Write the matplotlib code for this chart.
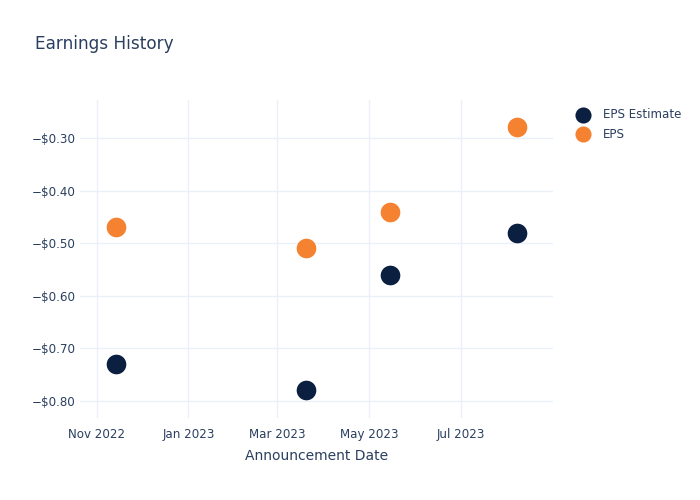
import datetime as dt

import matplotlib
matplotlib.use('Agg')
import matplotlib.pyplot as plt
import matplotlib.dates as mdates
from matplotlib.ticker import FuncFormatter

# data
dates = [dt.datetime(2022, 11, 14), dt.datetime(2023, 3, 20),
         dt.datetime(2023, 5, 15), dt.datetime(2023, 8, 7)]
eps_estimate = [-0.73, -0.78, -0.56, -0.48]
eps_actual = [-0.47, -0.51, -0.44, -0.28]
x_ticks = [dt.datetime(2022, 11, 1), dt.datetime(2023, 1, 1), dt.datetime(2023, 3, 1),
           dt.datetime(2023, 5, 1), dt.datetime(2023, 7, 1)]
y_ticks = [-0.8, -0.7, -0.6, -0.5, -0.4, -0.3]

TEXT = '#2a3f5f'
GRID = '#ebf0f8'
NAVY = '#0b1f41'
ORANGE = '#f58231'

plt.rcParams['font.family'] = ['DejaVu Sans']

fig = plt.figure(figsize=(7, 5), dpi=100)
ax = fig.add_axes([80 / 700, 1 - 418 / 500, (553 - 80) / 700, (418 - 100) / 500])

ax.scatter(dates, eps_estimate, s=200, color=NAVY, label='EPS Estimate', zorder=3,
           linewidths=0)
ax.scatter(dates, eps_actual, s=200, color=ORANGE, label='EPS', zorder=3,
           linewidths=0)

ax.set_xlim(dt.datetime(2022, 10, 21), dt.datetime(2023, 8, 31))
ax.set_ylim(-0.8323, -0.2278)

ax.set_xticks(x_ticks)
ax.xaxis.set_major_formatter(mdates.DateFormatter('%b %Y'))
ax.set_yticks(y_ticks)
ax.yaxis.set_major_formatter(FuncFormatter(lambda v, p: '\u2212$%.2f' % abs(v)))

ax.grid(True, color=GRID, linewidth=1)
ax.set_axisbelow(True)
for s in ax.spines.values():
    s.set_visible(False)
ax.tick_params(length=0, labelsize=8.6, colors=TEXT)
ax.tick_params(axis='x', pad=7)
ax.tick_params(axis='y', pad=3)

fig.text(35 / 700, 1 - 44 / 500, 'Earnings History', fontsize=12.2, color=TEXT,
         ha='left', va='center')
fig.text((80 + 553) / 2 / 700, 1 - 456 / 500, 'Announcement Date', fontsize=10,
         color=TEXT, ha='center', va='center')

leg = ax.legend(loc='upper left', bbox_to_anchor=(571 / 700, 1 - 108 / 500),
                bbox_transform=fig.transFigure, frameon=False, fontsize=8.6,
                labelcolor=TEXT, handletextpad=0.7, labelspacing=0.55,
                borderaxespad=0, borderpad=0, markerscale=0.82)

fig.savefig('out.png', dpi=100)
